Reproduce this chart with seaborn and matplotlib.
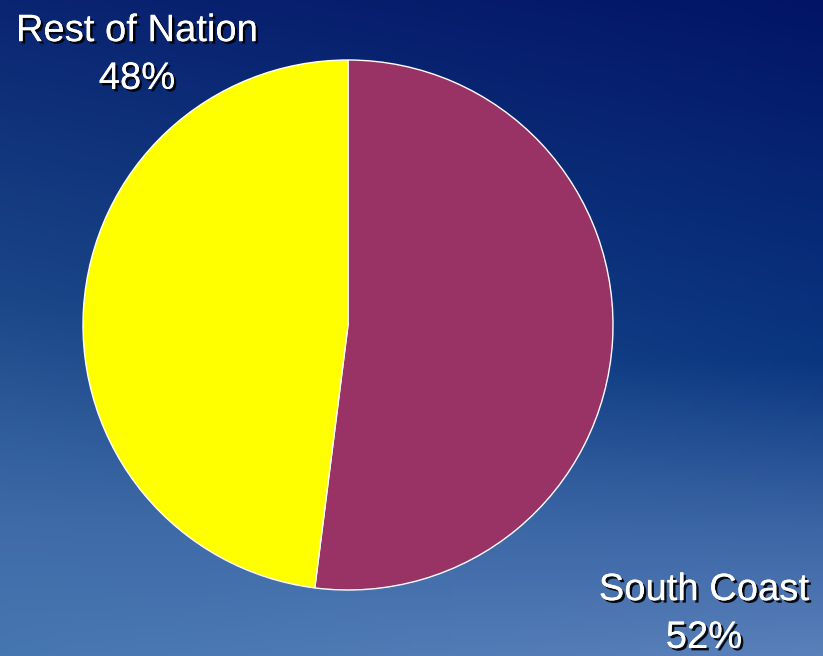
import numpy as np
import matplotlib
matplotlib.use("Agg")
import matplotlib.pyplot as plt
import matplotlib.patheffects as pe
from matplotlib.colors import to_rgb
import seaborn as sns

sns.set_theme(style="white")
plt.rcParams['font.family'] = ['Liberation Sans', 'DejaVu Sans']

# Data
categories = ["South Coast", "Rest of Nation"]
shares = [52, 48]
slice_colors = ["#993366", "#FFFF00"]

W, H, DPI = 823, 656, 100
fig = plt.figure(figsize=(W / DPI, H / DPI), dpi=DPI)

# Background gradient
bg = fig.add_axes([0, 0, 1, 1])
bg.set_axis_off()
ny, nx = 200, 200
yy = np.linspace(0, 1, ny)[:, None]  # 0 top, 1 bottom
xx = np.linspace(0, 1, nx)[None, :]
left_stops = [(0.0, "#0a2572"), (0.45, "#1a4688"), (0.8, "#3f6ca8"), (1.0, "#4676b0")]
right_stops = [(0.0, "#021466"), (0.55, "#0a3680"), (0.8, "#3a64a4"), (1.0, "#5a80ba")]

def column(stops):
    pos = [s[0] for s in stops]
    cols = np.array([to_rgb(s[1]) for s in stops])
    return np.stack([np.interp(yy[:, 0], pos, cols[:, k]) for k in range(3)], axis=-1)

lc = column(left_stops)[:, None, :]
rc = column(right_stops)[:, None, :]
img = lc * (1 - xx[..., None]) + rc * xx[..., None]
bg.imshow(img, aspect="auto", extent=[0, 1, 0, 1], origin="upper")
bg.set_xlim(0, 1)
bg.set_ylim(0, 1)

# Pie axes: center (348, 325) px, radius 265 px
cx, cy, r = 348, 325, 265
ax = fig.add_axes([(cx - r) / W, (H - cy - r) / H, 2 * r / W, 2 * r / H])
ax.set_axis_off()
ax.pie(shares, colors=slice_colors, startangle=90, counterclock=False,
       radius=1.0, wedgeprops=dict(edgecolor="white", linewidth=1.0))
ax.set_xlim(-1, 1)
ax.set_ylim(-1, 1)
ax.set_aspect("auto")

shadow = [pe.withSimplePatchShadow(offset=(1.8, -1.8), shadow_rgbFace="black", alpha=0.9), pe.Normal()]
label_pos = {"Rest of Nation": (137, 55), "South Coast": (704, 614)}
for cat, val in zip(categories, shares):
    x, y = label_pos[cat]
    fig.text(x / W, 1 - y / H, f"{cat}\n{val}%", ha="center", va="center",
             color="white", fontsize=27.5, linespacing=1.42, path_effects=shadow)

fig.savefig("out.png", dpi=DPI)
